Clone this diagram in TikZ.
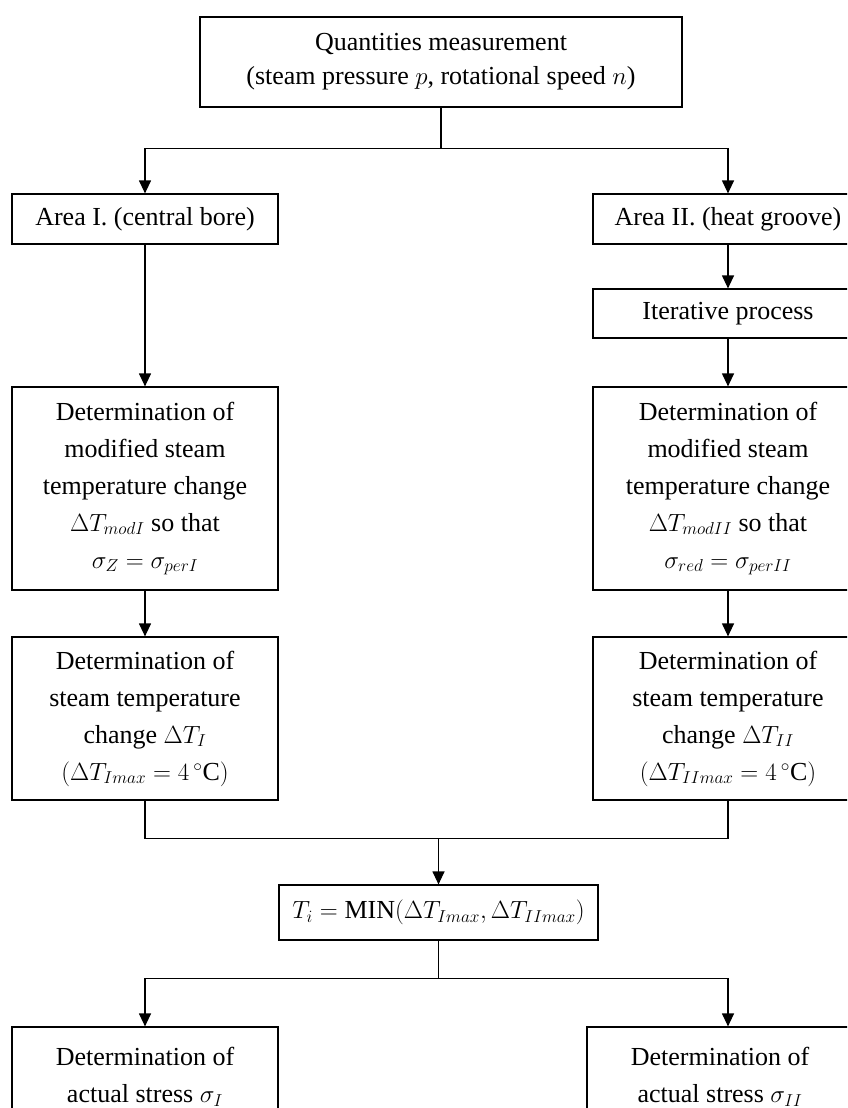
\documentclass[tikz,border=0pt]{standalone}
\usepackage{fontspec}
\setmainfont{Liberation Serif}
\usetikzlibrary{arrows.meta,positioning}

\begin{document}
\begin{tikzpicture}[x=1pt,y=-1pt,
  box/.style={rectangle,draw=black,line width=1.2pt,fill=white,align=center,
              inner sep=0pt,font=\fontsize{26}{37}\selectfont},
  arr/.style={-{Triangle[length=13pt,width=12pt]},line width=1.2pt},
  ln/.style={line width=1.2pt}]
\path[clip] (0,0) rectangle (847,1108);
\node[box,minimum width=482pt,minimum height=90pt] (meas) at (441,62)
  {Quantities measurement\\[-3pt](steam pressure $p$, rotational speed $n$)};
\node[box,minimum width=266pt,minimum height=50pt] (areaI) at (145,219) {Area I. (central bore)};
\node[box,minimum width=270pt,minimum height=50pt] (areaII) at (728,219) {Area II. (heat groove)};
\node[box,minimum width=270pt,minimum height=49pt] (iter) at (728,313.5) {Iterative process};
\node[box,minimum width=266pt,minimum height=203pt] (modI) at (145,488.5)
  {Determination of\\modified steam\\temperature change\\$\Delta T_{modI}$ so that\\$\sigma_Z = \sigma_{perI}$};
\node[box,minimum width=270pt,minimum height=203pt] (modII) at (728,488.5)
  {Determination of\\modified steam\\temperature change\\$\Delta T_{modII}$ so that\\$\sigma_{red} = \sigma_{perII}$};
\node[box,minimum width=266pt,minimum height=163pt] (devI) at (145,718.5)
  {Determination of\\steam temperature\\change $\Delta T_I$\\$(\Delta T_{Imax} = 4\,^{\circ}\mathrm{C})$};
\node[box,minimum width=270pt,minimum height=163pt] (devII) at (728,718.5)
  {Determination of\\steam temperature\\change $\Delta T_{II}$\\$(\Delta T_{IImax} = 4\,^{\circ}\mathrm{C})$};
\node[box,minimum width=319pt,minimum height=55pt] (tmin) at (438.5,912.5)
  {$T_i = \mathrm{MIN}(\Delta T_{Imax}, \Delta T_{IImax})$};
\node[box,minimum width=266pt,minimum height=100pt] (actI) at (145,1077)
  {Determination of\\actual stress $\sigma_I$};
\node[box,minimum width=266pt,minimum height=100pt] (actII) at (720,1077)
  {Determination of\\actual stress $\sigma_{II}$};
% connectors
\draw[ln] (meas.south) -- ++(0,41) coordinate (split1);
\draw[arr] (split1) -| (areaI.north);
\draw[arr] (split1) -| (areaII.north);
\draw[arr] (areaI) -- (modI);
\draw[arr] (areaII) -- (iter);
\draw[arr] (iter) -- (modII);
\draw[arr] (modI) -- (devI);
\draw[arr] (modII) -- (devII);
\draw[ln] (devI.south) -- ++(0,38) coordinate (joinL) -| (devII.south);
\draw[arr] (joinL -| tmin.north) -- (tmin.north);
\draw[ln] (tmin.south) -- ++(0,38) coordinate (split2);
\draw[arr] (split2) -| (actI.north);
\draw[arr] (split2) -| (devII.south |- actII.north);
\end{tikzpicture}
\end{document}
